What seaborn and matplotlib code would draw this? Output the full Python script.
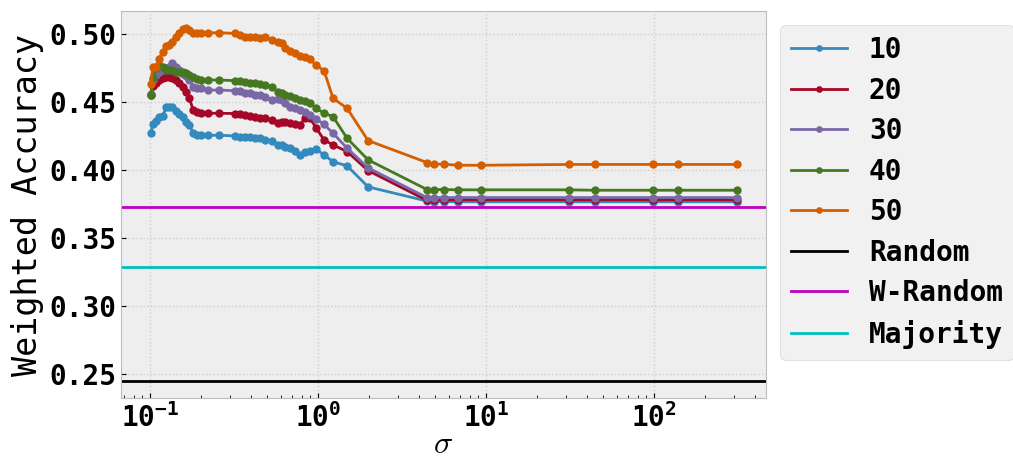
import numpy as np
import matplotlib
matplotlib.use("Agg")
import matplotlib.pyplot as plt
import pandas as pd
import seaborn as sns

# sigma grid
sigma = [0.101, 0.104, 0.108, 0.113, 0.119, 0.125, 0.130, 0.135, 0.142, 0.149,
         0.156, 0.164, 0.171, 0.181, 0.190, 0.201, 0.221, 0.257, 0.321, 0.343,
         0.368, 0.394, 0.422, 0.452, 0.484, 0.529, 0.578, 0.611, 0.636, 0.681,
         0.730, 0.781, 0.837, 0.896, 0.973, 1.086, 1.228, 1.488, 1.984, 4.456,
         4.904, 5.623, 6.813, 9.338, 31.2, 44.5, 98.6, 139.0, 312.0]

acc_10 = [0.427, 0.434, 0.436, 0.439, 0.440, 0.446, 0.4465, 0.446, 0.443, 0.441,
          0.439, 0.435, 0.433, 0.427, 0.426, 0.4255, 0.4255, 0.4255, 0.425, 0.4245,
          0.424, 0.4245, 0.4235, 0.4235, 0.422, 0.421, 0.4185, 0.418, 0.417, 0.416,
          0.414, 0.411, 0.4135, 0.414, 0.4152, 0.411, 0.406, 0.403, 0.3875, 0.377,
          0.3767, 0.3767, 0.3765, 0.3765, 0.3765, 0.3765, 0.3765, 0.3765, 0.3765]
acc_20 = [0.455, 0.462, 0.464, 0.466, 0.4675, 0.4686, 0.4686, 0.4674, 0.466, 0.4637,
          0.4613, 0.4576, 0.4527, 0.4441, 0.4424, 0.4418, 0.4417, 0.4417, 0.4415, 0.441,
          0.4404, 0.4398, 0.4392, 0.438, 0.438, 0.4368, 0.4343, 0.4355, 0.4355, 0.4345,
          0.4338, 0.433, 0.4385, 0.438, 0.431, 0.422, 0.4184, 0.4135, 0.3995, 0.3775,
          0.378, 0.378, 0.378, 0.378, 0.378, 0.378, 0.378, 0.378, 0.378]
acc_30 = [0.456, 0.466, 0.4699, 0.4723, 0.4735, 0.4748, 0.476, 0.4784, 0.476, 0.4735,
          0.4705, 0.469, 0.466, 0.4613, 0.460, 0.460, 0.4588, 0.4588, 0.4583, 0.458,
          0.4569, 0.4564, 0.4551, 0.455, 0.4539, 0.4515, 0.452, 0.4515, 0.449, 0.4466,
          0.4454, 0.444, 0.4429, 0.4405, 0.4375, 0.4335, 0.427, 0.416, 0.4015, 0.3795,
          0.3796, 0.3796, 0.3796, 0.3796, 0.3796, 0.3796, 0.3796, 0.3796, 0.3796]
acc_40 = [0.4551, 0.468, 0.475, 0.4772, 0.476, 0.4735, 0.4735, 0.4735, 0.4723, 0.4723,
          0.472, 0.4711, 0.470, 0.4686, 0.4668, 0.4662, 0.4662, 0.4662, 0.4657, 0.4652,
          0.4649, 0.4643, 0.4637, 0.463, 0.4625, 0.4613, 0.4575, 0.4564, 0.4555, 0.4545,
          0.4527, 0.4515, 0.4505, 0.449, 0.4454, 0.4417, 0.4392, 0.4233, 0.4074, 0.3855,
          0.3855, 0.3855, 0.3853, 0.3853, 0.3853, 0.385, 0.385, 0.385, 0.385]
acc_50 = [0.463, 0.476, 0.476, 0.482, 0.487, 0.491, 0.492, 0.494, 0.498, 0.5005,
          0.504, 0.5045, 0.503, 0.5005, 0.501, 0.501, 0.501, 0.501, 0.5005, 0.4995,
          0.498, 0.498, 0.4975, 0.4968, 0.498, 0.4956, 0.4943, 0.4936, 0.4895, 0.4877,
          0.4858, 0.4838, 0.4833, 0.4814, 0.4772, 0.473, 0.4527, 0.4454, 0.4216, 0.4054,
          0.4042, 0.4042, 0.4034, 0.4034, 0.404, 0.404, 0.404, 0.404, 0.404]

series_names = ["10", "20", "30", "40", "50"]
series_vals = [acc_10, acc_20, acc_30, acc_40, acc_50]
series_colors = ["#348ABD", "#A60628", "#7A68A6", "#467821", "#D55E00"]

baseline_names = ["Random", "W-Random", "Majority"]
baseline_vals = [0.2445, 0.3728, 0.3287]
baseline_colors = ["black", "m", "c"]

plt.style.use("bmh")
plt.rcParams["font.family"] = "monospace"
plt.rcParams["font.monospace"] = ["DejaVu Sans Mono"]
plt.rcParams["font.weight"] = "bold"
plt.rcParams["mathtext.default"] = "regular"

fig = plt.figure(figsize=(10.13, 4.62), dpi=100)
ax = fig.add_axes([0.1194, 0.1385, 0.6368, 0.8377])

for name, vals, col in zip(series_names, series_vals, series_colors):
    df = pd.DataFrame({"sigma": sigma, "acc": vals})
    sns.lineplot(data=df, x="sigma", y="acc", ax=ax, color=col, label=name,
                 marker="o", markersize=6, markeredgewidth=0, linewidth=2)

for name, v, col in zip(baseline_names, baseline_vals, baseline_colors):
    ax.axhline(v, color=col, lw=2, label=name)

ax.set_xscale("log")
ax.set_xlim(0.0671, 464)
ax.set_ylim(0.232, 0.517)
ax.set_yticks([0.25, 0.30, 0.35, 0.40, 0.45, 0.50])
ax.grid(True, which="major", color="#cfcfcf", linestyle=":", linewidth=1)
ax.tick_params(axis="both", which="both", labelsize=20, direction="in")
ax.tick_params(axis="y", pad=3)
ax.set_ylabel("Weighted Accuracy", fontsize=24, fontweight="normal")
ax.set_xlabel(r"$\mathit{\sigma}$", fontsize=23, math_fontfamily="cm", labelpad=-3)

ax.legend(loc="upper left", bbox_to_anchor=(780 / 1013, 1 - 25 / 462),
          bbox_transform=fig.transFigure, borderaxespad=0, labelspacing=0.45,
          markerscale=0.8,
          prop={"family": "monospace", "weight": "bold", "size": 20})

fig.savefig("out.png", dpi=100)
